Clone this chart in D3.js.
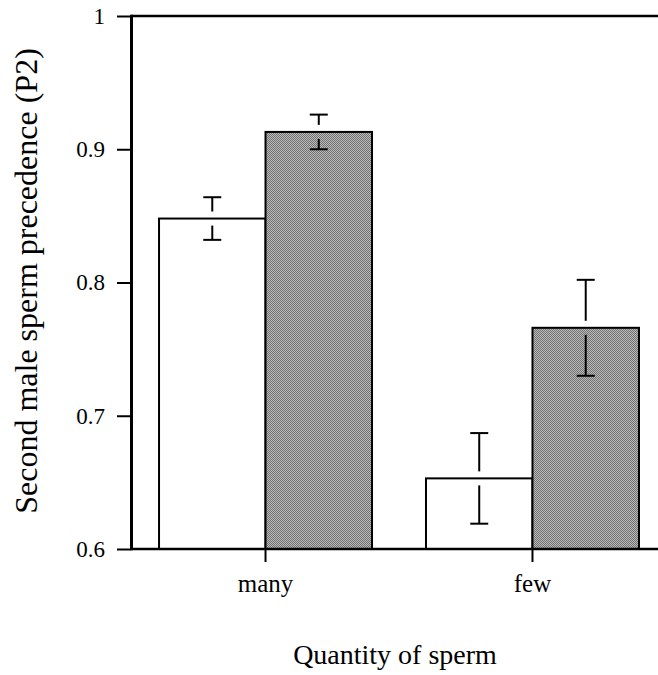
<!DOCTYPE html>
<html>
<head>
<meta charset="utf-8">
<script src="https://cdn.jsdelivr.net/npm/d3@7"></script>
<style>
    body { margin: 0; background: #fff; }
    text { font-family: "Liberation Serif", "Times New Roman", serif; fill: #000; }
</style>
</head>
<body>
<div id="chart"></div>
<script>
// data
const categories = ['many', 'few'];
const treatments = ['open', 'shaded'];
const meanOpen = [0.848, 0.653];
const meanShaded = [0.913, 0.766];
const seOpen = [0.016, 0.034];
const seShaded = [0.013, 0.036];
const yTicks = [0.6, 0.7, 0.8, 0.9, 1];

const dimensions = {
    width: 658,
    height: 675
};

const margin = {
    top: 16,
    left: 131,
    bottom: 126
};

const plotBottom = dimensions.height - margin.bottom;

const svg = d3.select('#chart')
    .append('svg')
    .attr('width', dimensions.width)
    .attr('height', dimensions.height);

// dithered grey fill
const defs = svg.append('defs');
const pattern = defs.append('pattern')
    .attr('id', 'dither')
    .attr('width', 2)
    .attr('height', 2)
    .attr('patternUnits', 'userSpaceOnUse');
pattern.append('rect').attr('width', 2).attr('height', 2).attr('fill', '#bcbcbc');
pattern.append('rect').attr('width', 1).attr('height', 1).attr('fill', '#707070');
pattern.append('rect').attr('x', 1).attr('y', 1).attr('width', 1).attr('height', 1).attr('fill', '#707070');

// scales
const x = d3.scaleBand()
    .domain(categories)
    .range([margin.left, 667])
    .paddingInner(0.2022)
    .paddingOuter(0.105);

const xInner = d3.scaleBand()
    .domain(treatments)
    .range([0, x.bandwidth()]);

const y = d3.scaleLinear()
    .domain([0.6, 1])
    .range([plotBottom, margin.top]);

const rows = categories.map((c, i) => [
    { cat: c, t: 'open', mean: meanOpen[i], se: seOpen[i] },
    { cat: c, t: 'shaded', mean: meanShaded[i], se: seShaded[i] }
]).flat();

// bars
svg.selectAll('rect.bar')
    .data(rows)
    .enter()
    .append('rect')
        .attr('class', 'bar')
        .attr('x', d => x(d.cat) + xInner(d.t))
        .attr('y', d => y(d.mean))
        .attr('width', xInner.bandwidth())
        .attr('height', d => y(0.6) - y(d.mean))
        .attr('fill', d => d.t === 'open' ? '#fff' : 'url(#dither)')
        .attr('stroke', '#000')
        .attr('stroke-width', 2);

// error bars (split around the bar top)
const gap = 7;
const capHalf = 9;
const errors = svg.append('g')
    .attr('stroke', '#000')
    .attr('stroke-width', 2);

rows.forEach(d => {
    const cx = x(d.cat) + xInner(d.t) + xInner.bandwidth() / 2;
    const top = y(d.mean + d.se);
    const bottom = y(d.mean - d.se);
    const mid = y(d.mean);
    errors.append('line').attr('x1', cx).attr('x2', cx).attr('y1', top).attr('y2', mid - gap);
    errors.append('line').attr('x1', cx).attr('x2', cx).attr('y1', mid + gap).attr('y2', bottom);
    errors.append('line').attr('x1', cx - capHalf).attr('x2', cx + capHalf).attr('y1', top).attr('y2', top);
    errors.append('line').attr('x1', cx - capHalf).attr('x2', cx + capHalf).attr('y1', bottom).attr('y2', bottom);
});

// frame lines
svg.append('line')
    .attr('x1', margin.left).attr('x2', dimensions.width)
    .attr('y1', y(1)).attr('y2', y(1))
    .attr('stroke', '#000').attr('stroke-width', 2.4);

svg.append('line')
    .attr('x1', margin.left).attr('x2', dimensions.width)
    .attr('y1', y(0.6)).attr('y2', y(0.6))
    .attr('stroke', '#000').attr('stroke-width', 2.4);

svg.append('line')
    .attr('x1', margin.left + 0.5).attr('x2', margin.left + 0.5)
    .attr('y1', y(1) - 1.2).attr('y2', y(0.6) + 1.2)
    .attr('stroke', '#000').attr('stroke-width', 3);

// axes
const yAxis = d3.axisLeft(y)
    .tickValues(yTicks)
    .tickSize(14)
    .tickPadding(12)
    .tickFormat(d => d === 1 ? '1' : d3.format('.1f')(d));

const yAxisGroup = svg.append('g')
    .attr('transform', `translate(${margin.left}, 0)`)
    .call(yAxis)
    .attr('font-family', null)
    .attr('font-size', null);
yAxisGroup.select('.domain').remove();
yAxisGroup.selectAll('line').attr('stroke-width', 2);
yAxisGroup.selectAll('text').style('font-size', '23px');

const xAxis = d3.axisBottom(x)
    .tickSize(13)
    .tickPadding(12);

const xAxisGroup = svg.append('g')
    .attr('transform', `translate(0, ${plotBottom})`)
    .call(xAxis)
    .attr('font-family', null)
    .attr('font-size', null);
xAxisGroup.select('.domain').remove();
xAxisGroup.selectAll('line').attr('stroke-width', 2);
xAxisGroup.selectAll('text').style('font-size', '25px');

// titles
svg.append('text')
    .attr('x', 395)
    .attr('y', 664)
    .attr('text-anchor', 'middle')
    .style('font-size', '28px')
    .text('Quantity of sperm');

svg.append('text')
    .attr('transform', 'translate(37, 281) rotate(-90)')
    .attr('text-anchor', 'middle')
    .style('font-size', '32px')
    .text('Second male sperm precedence (P2)');
</script>
</body>
</html>
